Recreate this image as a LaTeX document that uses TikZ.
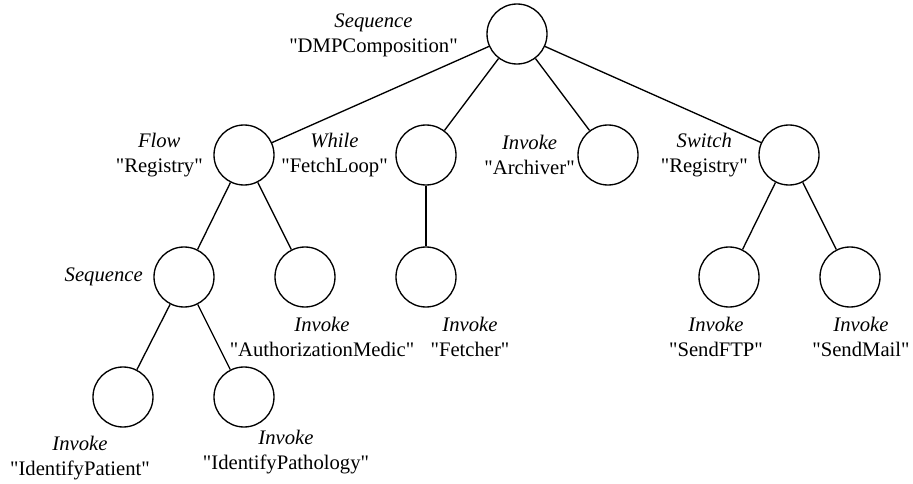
\documentclass[tikz,border=0pt]{standalone}
\usepackage{fontspec}
\setmainfont{Liberation Serif}[Ligatures=TeXOff]
\tikzset{
  act/.style={draw,circle,line width=1pt,minimum size=45pt,inner sep=0pt},
  lbl/.style={align=center,inner sep=0pt,font=\fontsize{15.5}{18.75}\selectfont},
  edge/.style={line width=1pt}
}
\begin{document}
\begin{tikzpicture}[x=0.75pt,y=-0.75pt]
%\draw[step=50,gray,very thin] (0,0) grid (913,484); %background grid
\useasboundingbox (0,0) rectangle (913,484);

% activities
\node[act] (dmp)     at (517,34)  {};
\node[act] (flow)    at (244,155) {};
\node[act] (loop)    at (426,155) {};
\node[act] (arch)    at (608,155) {};
\node[act] (switch)  at (789,155) {};
\node[act] (seq)     at (184,277) {};
\node[act] (auth)    at (305,277) {};
\node[act] (fetch)   at (426,277) {};
\node[act] (ftp)     at (729,277) {};
\node[act] (mail)    at (850,277) {};
\node[act] (patient) at (123,397) {};
\node[act] (patho)   at (244,397) {};

\draw[edge] (dmp) -- (flow);
\draw[edge] (dmp) -- (loop);
\draw[edge] (dmp) -- (arch);
\draw[edge] (dmp) -- (switch);
\draw[edge] (flow) -- (seq);
\draw[edge] (flow) -- (auth);
\draw[edge] (loop) -- (fetch);
\draw[edge] (switch) -- (ftp);
\draw[edge] (switch) -- (mail);
\draw[edge] (seq) -- (patient);
\draw[edge] (seq) -- (patho);

% labels
\node[lbl,anchor=east] (dmplbl)    at (458,35)  {\textit{Sequence}\\"DMPComposition"};
\node[lbl,anchor=east] (flowlbl)   at (203,155) {\textit{Flow}\\"Registry"};
\node[lbl,anchor=east] (looplbl)   at (388,155) {\textit{While}\\"FetchLoop"};
\node[lbl,anchor=east] (archlbl)   at (575,155) {\textit{Invoke}\\"Archiver"};
\node[lbl,anchor=east] (switchlbl) at (748,155) {\textit{Switch}\\"Registry"};
\node[lbl,anchor=east] (seqlbl)    at (143,277) {\textit{Sequence}};
\node[lbl] (authlbl)    at (322,337) {\textit{Invoke}\\"AuthorizationMedic"};
\node[lbl] (fetchlbl)   at (470,337) {\textit{Invoke}\\"Fetcher"};
\node[lbl] (ftplbl)     at (716,337) {\textit{Invoke}\\"SendFTP"};
\node[lbl] (maillbl)    at (861,337) {\textit{Invoke}\\"SendMail"};
\node[lbl] (patientlbl) at (80,458)  {\textit{Invoke}\\"IdentifyPatient"};
\node[lbl] (patholbl)   at (286,452) {\textit{Invoke}\\"IdentifyPathology"};
\end{tikzpicture}
\end{document}
